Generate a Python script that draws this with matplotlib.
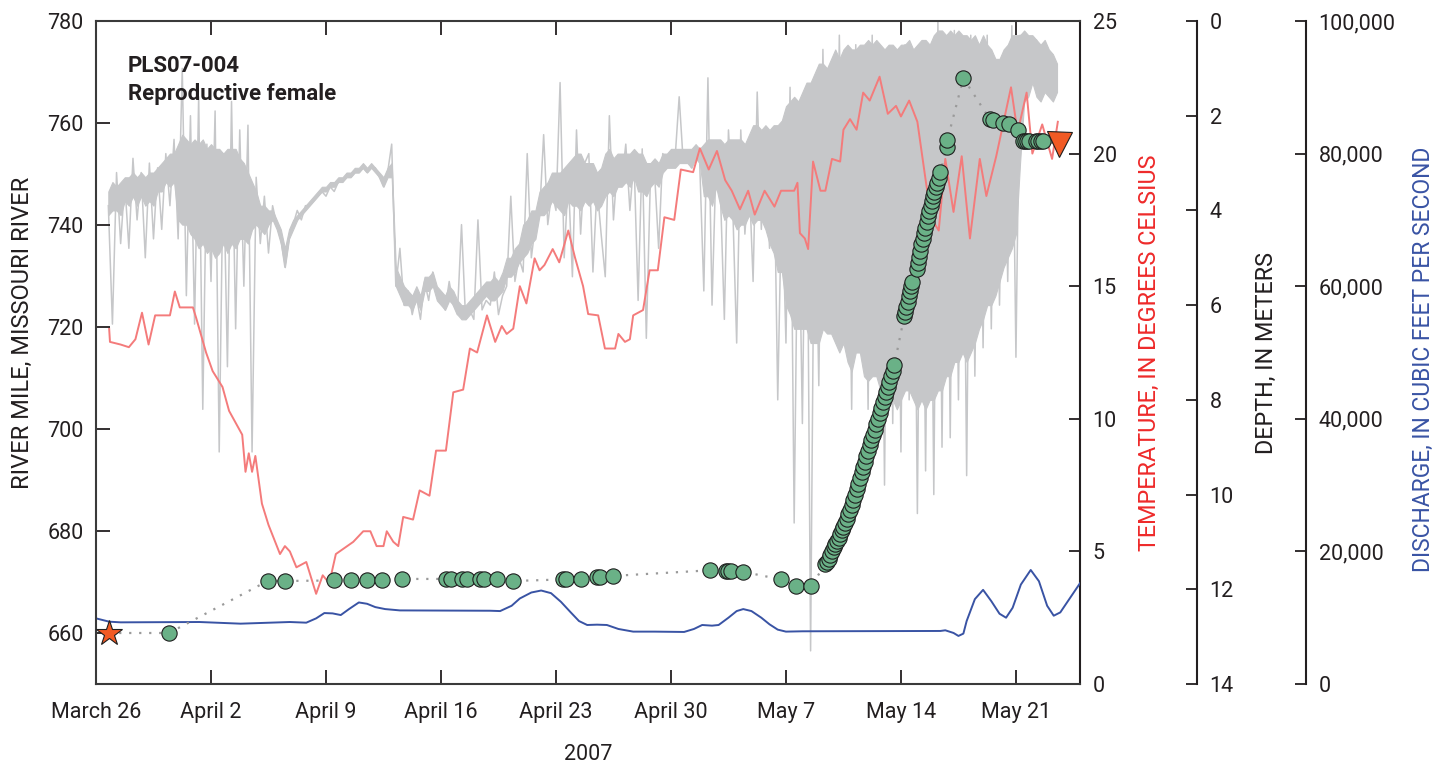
import numpy as np
import matplotlib
matplotlib.use("Agg")
from matplotlib import pyplot as plt
from matplotlib.ticker import FuncFormatter

plt.rcParams['font.family'] = ['Roboto', 'DejaVu Sans']

# x positions are days after March 26, 2007
week_ticks = [0, 7, 14, 21, 28, 35, 42, 49, 56]
week_labels = ["March 26", "April 2", "April 9", "April 16", "April 23",
               "April 30", "May 7", "May 14", "May 21"]

# fish location, river mile
fish_day = [4.44, 10.45, 11.5, 14.5, 15.5, 16.5, 17.4, 18.6,
            21.3, 21.6, 22.3, 22.6, 23.4, 23.6, 24.4, 25.4,
            28.4, 28.6, 29.5, 30.5, 30.7, 31.5,
            37.4, 38.35, 38.5, 38.65, 39.4,
            41.7, 42.6, 43.55,
            44.4, 44.5, 44.6, 44.7, 44.8, 44.9, 45.0, 45.1, 45.2, 45.3,
            45.4, 45.5, 45.6, 45.7, 45.8, 45.9, 46.0, 46.1, 46.2, 46.3,
            46.4, 46.5, 46.6, 46.7, 46.8, 46.9, 47.0, 47.1, 47.2, 47.3,
            47.4, 47.5, 47.6, 47.7, 47.8, 47.9, 48.0, 48.1, 48.2, 48.3,
            48.4, 48.5, 48.6,
            49.2, 49.27, 49.33, 49.4, 49.47, 49.55, 49.62, 49.7,
            49.95, 50.03, 50.1, 50.17, 50.25, 50.33, 50.4, 50.48, 50.56, 50.64,
            50.72, 50.8, 50.88, 50.96, 51.04, 51.12, 51.2, 51.3, 51.4,
            51.78, 51.82, 52.8,
            54.4, 54.6, 55.2, 55.6, 56.1, 56.4, 56.55, 56.7, 56.8,
            57.2, 57.35, 57.5, 57.65]
fish_rm = [660.0, 670.2, 670.2, 670.3, 670.3, 670.3, 670.3, 670.6,
           670.6, 670.6, 670.6, 670.6, 670.6, 670.6, 670.5, 670.2,
           670.5, 670.5, 670.6, 671.0, 671.0, 671.2,
           672.3, 672.1, 672.1, 672.1, 672.0,
           670.5, 669.2, 669.3,
           673.5, 674.0, 674.6, 675.2, 676.0, 676.8, 677.4, 678.0, 678.7, 679.4,
           680.1, 680.8, 681.6, 682.4, 683.3, 684.1, 685.1, 686.1, 687.1, 688.2,
           689.3, 690.4, 691.5, 692.6, 693.6, 694.7, 695.7, 696.8, 697.8, 698.9,
           699.9, 701.0, 702.0, 703.1, 704.1, 705.2, 706.2, 707.3, 708.3, 709.3,
           710.3, 711.4, 712.6,
           722.1, 723.0, 724.0, 725.0, 726.0, 727.0, 728.0, 728.8,
           731.4, 732.6, 733.8, 735.0, 736.2, 737.3, 738.4, 739.5, 740.6, 741.7,
           742.7, 743.7, 744.7, 745.6, 746.5, 747.4, 748.3, 749.3, 750.3,
           755.3, 756.6, 768.8,
           760.8, 760.6, 760.0, 759.8, 758.7, 756.5, 756.5, 756.5, 756.5,
           756.5, 756.5, 756.5, 756.5]
release_day, release_rm = 0.8, 660.0
last_day, last_rm = 58.6, 755.8

# water temperature, degrees Celsius
temp_day = [0.8, 0.85, 1.5, 2.0, 2.4, 2.8, 3.2, 3.6, 4.5, 4.8, 5.1, 5.9, 6.1, 6.7,
            7.1, 7.7, 8.1, 8.9, 9.1, 9.3, 9.5, 9.7, 10.1, 10.5, 11.2, 11.5, 11.8,
            12.2, 12.8, 13.4, 13.8, 14.2, 14.6, 15.66, 16.27, 16.7, 17.08, 17.5,
            17.7, 18.1, 18.4, 18.7, 19.3, 19.7, 20.3, 20.7, 21.3, 21.75, 22.35,
            22.76, 23.2, 23.8, 24.3, 24.7, 25.0, 25.4, 25.8, 26.2, 26.7, 27.0,
            27.3, 27.8, 28.2, 28.75, 29.15, 29.65, 29.96, 30.57, 30.98, 31.6,
            31.8, 32.2, 32.5, 32.7, 33.3, 33.7, 34.2, 34.6, 35.2, 35.6, 36.35,
            36.76, 37.3, 37.8, 38.3, 38.7, 39.2, 39.7, 40.1, 40.7, 41.3, 41.7,
            42.5, 42.7, 42.85, 43.15, 43.35, 43.65, 44.1, 44.4, 44.8, 45.3, 45.5,
            45.9, 46.3, 46.7, 47.1, 47.7, 48.2, 48.7, 49.0, 49.5, 50.0, 50.55,
            50.9, 51.3, 51.7, 52.2, 52.7, 53.2, 53.8, 54.2, 54.8, 55.7, 56.1,
            56.65, 57.0, 57.6, 58.2, 58.55]
temp_c = [13.4, 12.9, 12.8, 12.7, 13.0, 14.0, 12.8, 13.9, 13.9, 14.8, 14.2, 14.2, 13.8, 12.5,
          11.8, 11.2, 10.3, 9.4, 8.0, 8.7, 8.0, 8.6, 6.8, 6.0, 4.9, 5.2, 5.0,
          4.4, 4.6, 3.4, 4.1, 3.8, 4.9, 5.36, 5.76, 5.76, 5.2, 5.2,
          5.76, 5.36, 5.2, 6.3, 6.2, 7.3, 7.1, 8.8, 8.8, 11.0, 11.1,
          12.65, 12.5, 13.9, 12.9, 13.5, 13.2, 13.4, 15.0, 14.35, 16.05, 15.6,
          15.8, 16.4, 15.9, 17.1, 16.1, 15.0, 13.95, 13.9, 12.65, 12.65,
          13.2, 12.9, 13.0, 13.9, 14.1, 15.6, 15.6, 17.6, 17.5, 19.4, 19.3,
          20.2, 19.4, 20.1, 19.0, 18.6, 17.9, 18.6, 17.7, 18.6, 18.0, 18.6,
          18.6, 18.9, 17.0, 16.8, 16.4, 19.7, 18.6, 18.6, 19.8, 19.7, 20.9,
          21.3, 20.9, 22.3, 22.0, 22.9, 21.5, 21.8, 21.4, 22.0, 21.2, 18.8,
          17.5, 17.1, 19.8, 17.8, 19.9, 16.8, 19.8, 18.4, 19.9, 22.5, 20.8,
          22.3, 20.0, 21.1, 19.8, 21.2]

# fish depth, meters, every 6 hours from March 26 18:00
# single readings, including the spikes
depth_m = [3.9,
           6.4, 3.2, 4.7, 3.4,   4.8, 2.9, 4.2, 3.2,   5.0, 3.0, 4.6, 3.1,
           4.4, 2.8, 3.9, 2.5,   4.6, 1.0, 5.8, 2.0,   6.4, 1.6, 8.2, 2.6,
           5.5, 1.9, 9.1, 2.8,   7.3, 1.7, 6.5, 2.3,   5.6, 2.2, 9.1, 3.3,
           4.7, 3.7, 4.9, 3.9,   4.3, 4.6, 5.2, 4.6,   4.3, 4.0, 4.2, 3.9,
           3.9, 3.8, 3.7, 3.6,   3.7, 3.5, 3.6, 3.4,   3.4, 3.3, 3.3, 3.2,
           3.2, 3.1, 3.2, 3.1,   3.1, 3.3, 3.5, 3.2,   2.6, 5.6, 4.8, 6.0,
           5.7, 6.2, 5.8, 6.3,   5.5, 5.9, 5.3, 5.8,   5.9, 6.1, 5.5, 6.0,
           6.2, 4.3, 6.3, 6.1,   6.3, 4.2, 6.1, 5.9,   6.0, 5.3, 6.2, 5.8,
           5.6, 3.7, 5.5, 5.0,   5.3, 2.8, 5.0, 4.3,   4.1, 2.4, 4.3, 3.6,
           4.0, 1.3, 5.0, 3.3,   5.4, 2.3, 4.5, 3.0,   2.8, 5.3, 3.5, 4.5,
           5.4, 2.0, 4.2, 3.0,   3.4, 2.6, 4.0, 2.9,   5.9, 2.7, 6.7, 3.3,
           3.2, 4.8, 2.8, 3.0,   3.0, 2.9, 1.6, 3.0,   2.9, 3.1, 2.8, 3.0,
           5.7, 1.2, 6.0, 2.9,   3.5, 6.3, 2.3, 3.8,   6.8, 2.3, 4.5, 3.2,
           5.5, 1.5, 4.4, 2.6,   4.8, 2.3, 8.0, 3.5,   6.8, 1.4, 10.6, 3.0,
           8.5, 1.4, 13.3, 2.5,  7.7, 0.6, 6.0, 1.5,   6.5, 0.3, 5.8, 1.2,
           8.2, 0.5, 7.0, 1.5,   8.2, 0.3, 7.5, 1.0,   9.8, 0.6, 8.5, 1.2,
           9.1, 0.5, 8.0, 1.0,   10.4, 0.6, 9.5, 0.8,  10.0, 0.0, 9.0, 0.5,
           8.8, 0.2, 8.0, 0.6,   9.6, 0.3, 7.5, 0.8,   6.9, 0.3, 6.5, 1.0,
           6.0, 0.9, 5.5, 0.1,   7.1, 0.3, 1.8, 0.6,   1.2, 0.4, 1.6, 0.5,
           1.0, 0.8, 1.5]
# dense part of the record: shallowest and deepest, same 6-hour steps
depth_top = [3.6,
             3.4, 3.5, 3.4, 3.3,   3.3, 3.2, 3.3, 3.2,   3.3, 3.2, 3.2, 3.1,
             3.0, 2.9, 2.8, 2.8,   2.6, 2.4, 2.5, 2.6,   2.5, 2.6, 2.5, 2.7,
             2.6, 2.7, 2.7, 2.8,   2.7, 2.7, 2.7, 2.9,   3.0, 3.2, 3.4, 3.6,
             3.9, 3.9, 4.0, 4.0,   4.2, 4.4, 4.8, 4.4,   4.2, 4.1, 4.0, 3.9,
             3.8, 3.7, 3.6, 3.5,   3.5, 3.4, 3.4, 3.3,   3.3, 3.2, 3.2, 3.1,
             3.1, 3.0, 3.1, 3.0,   3.1, 3.2, 3.3, 3.1,   3.0, 5.2, 5.4, 5.6,
             5.7, 5.8, 5.6, 5.8,   5.4, 5.4, 5.3, 5.6,   5.7, 5.8, 5.6, 5.7,
             5.9, 6.0, 6.0, 5.9,   5.8, 5.7, 5.6, 5.5,   5.5, 5.4, 5.5, 5.3,
             5.0, 5.0, 4.8, 4.7,   4.3, 4.2, 4.0, 4.0,   3.6, 3.5, 3.4, 3.2,
             3.2, 3.2, 3.1, 3.0,   2.9, 2.8, 2.8, 3.0,   3.0, 3.0, 3.2, 3.1,
             2.8, 2.7, 2.9, 2.8,   2.8, 2.8, 2.8, 2.7,   2.8, 2.8, 3.0, 3.0,
             2.9, 3.0, 2.8, 2.8,   2.7, 2.7, 2.7, 2.7,   2.7, 2.7, 2.6, 2.7,
             2.6, 2.5, 2.5, 2.5,   2.5, 2.6, 2.5, 2.5,   2.5, 2.5, 2.6, 2.4,
             2.2, 2.2, 2.3, 2.2,   2.3, 2.2, 2.2, 2.1,   1.8, 1.7, 1.6, 1.7,
             1.5, 1.3, 1.3, 1.1,   0.9, 0.9, 1.0, 0.8,   0.6, 0.8, 0.6, 0.5,
             0.6, 0.6, 0.5, 0.5,   0.4, 0.5, 0.4, 0.5,   0.6, 0.5, 0.5, 0.6,
             0.5, 0.5, 0.4, 0.6,   0.5, 0.4, 0.4, 0.5,   0.3, 0.2, 0.2, 0.3,
             0.2, 0.3, 0.2, 0.3,   0.3, 0.4, 0.3, 0.5,   0.3, 0.5, 0.6, 0.8,
             0.8, 0.6, 0.5, 0.3,   0.3, 0.3, 0.2, 0.3,   0.3, 0.4, 0.5, 0.4,
             0.6, 0.7, 0.9]
depth_bottom = [4.1,
                4.0, 4.0, 4.1, 3.8,   3.9, 3.7, 3.9, 3.7,   3.9, 3.8, 3.9, 3.6,
                3.6, 3.4, 3.5, 3.4,   4.2, 4.3, 4.3, 4.5,   4.6, 4.8, 4.7, 4.9,
                4.8, 5.0, 4.9, 4.7,   4.9, 4.7, 4.8, 4.6,   4.6, 4.7, 4.4, 4.3,
                4.4, 4.5, 4.3, 4.2,   4.4, 4.7, 5.2, 4.6,   4.4, 4.2, 4.1, 4.0,
                3.9, 3.8, 3.7, 3.6,   3.6, 3.5, 3.5, 3.4,   3.4, 3.3, 3.3, 3.2,
                3.2, 3.1, 3.2, 3.1,   3.2, 3.3, 3.5, 3.3,   3.3, 5.6, 5.8, 6.0,
                6.0, 6.1, 5.9, 6.1,   5.7, 5.7, 5.6, 5.9,   6.0, 6.1, 5.9, 6.0,
                6.2, 6.3, 6.3, 6.2,   6.1, 6.0, 5.9, 5.8,   5.9, 5.9, 5.8, 5.7,
                5.4, 5.4, 5.3, 5.1,   5.0, 4.9, 4.7, 4.6,   4.1, 4.1, 4.0, 3.8,
                3.9, 4.0, 4.1, 3.8,   3.9, 3.9, 4.0, 3.8,   3.9, 3.8, 4.0, 3.9,
                3.7, 3.6, 3.7, 3.5,   3.5, 3.4, 3.5, 3.3,   3.6, 3.6, 3.7, 3.5,
                3.4, 3.5, 3.2, 3.1,   3.1, 3.1, 3.0, 3.0,   3.0, 3.1, 2.9, 3.0,
                3.7, 3.7, 3.9, 3.5,   3.9, 4.2, 4.1, 4.2,   4.4, 4.3, 4.3, 4.1,
                4.3, 4.2, 4.2, 4.4,   4.7, 4.9, 5.3, 5.3,   6.0, 6.2, 6.5, 6.5,
                6.5, 6.5, 6.8, 6.8,   6.8, 6.5, 6.6, 6.6,   6.8, 7.0, 6.8, 7.2,
                7.4, 7.0, 7.0, 7.5,   7.6, 7.5, 7.5, 7.8,   8.0, 7.8, 8.0, 8.2,
                8.0, 7.8, 7.8, 8.0,   8.2, 8.0, 8.2, 8.0,   8.0, 7.8, 7.8, 7.5,
                7.5, 7.2, 7.2, 7.0,   7.2, 7.0, 6.8, 6.5,   6.3, 6.0, 6.0, 5.8,
                5.5, 5.2, 5.0, 4.8,   4.5, 3.0, 1.7, 1.6,   1.3, 1.6, 1.7, 1.5,
                1.6, 1.7, 1.5]
depth_day = 0.75 + 0.25 * np.arange(len(depth_m))

# river discharge, cubic feet per second
flow_day = [0, 0.8, 1.5, 6.3, 8.8, 11.8, 12.8, 13.4, 13.9, 14.4, 14.9, 15.4, 16.0,
            16.5, 17.0, 17.6, 18.5, 24.0, 24.6, 25.3, 25.8, 26.5, 27.1, 27.7, 28.3,
            28.9, 29.4, 29.9, 30.5, 31.1, 31.8, 32.7, 34.0, 35.8, 36.4, 36.9, 37.5,
            37.9, 38.5, 39.0, 39.4, 39.9, 40.5, 41.0, 41.5, 42.0, 43.0, 51.4, 51.7,
            52.2, 52.5, 52.8, 53.0, 53.5, 54.0, 54.5, 55.0, 55.4, 55.8, 56.3, 56.9,
            57.4, 57.9, 58.3, 58.7, 59.3, 59.9]
flow_cfs = [9900, 9400, 9300, 9350, 9100, 9350, 9250, 9900, 10700, 10650, 10400, 11300, 12300,
            12100, 11600, 11300, 11100, 11050, 11000, 11800, 12900, 13800, 14100, 13700, 12400,
            10800, 9500, 8900, 8950, 8900, 8300, 7900, 7900, 7850, 8300, 8900, 8800,
            8900, 10000, 11000, 11300, 11000, 10000, 9000, 8200, 7900, 7950, 8000, 8100,
            7700, 7250, 7600, 9500, 12800, 14200, 12500, 10600, 10000, 11500, 15000, 17200,
            15500, 11800, 10300, 10800, 13000, 15200]

ink = '#231f20'
fig = plt.figure(figsize=(14.5, 7.71), dpi=100)
ax = fig.add_axes([0.06621, 0.11284, 0.67862, 0.85992])
ax_d = ax.twinx()
ax_t = ax.twinx()
ax_q = ax.twinx()

# depth (gray, bottom layer)
ax_d.fill_between(depth_day, depth_top, depth_bottom, color='#c6c7c9', lw=0.8)
ax_d.plot(depth_day, depth_m, color='#c6c7c9', lw=1.1)
ax_d.set_ylim(14, 0)
ax_d.set_yticks(range(0, 15, 2))
ax_d.spines['right'].set_position(('axes', 1.119))

# temperature
ax_t.plot(temp_day, temp_c, color='#f47b7b', lw=1.4)
ax_t.set_ylim(0, 25)
ax_t.set_yticks(range(0, 26, 5))

# discharge
ax_q.plot(flow_day, flow_cfs, color='#3953a4', lw=1.4)
ax_q.set_ylim(0, 100000)
ax_q.set_yticks(range(0, 100001, 20000))
ax_q.yaxis.set_major_formatter(FuncFormatter(lambda v, p: f"{int(v):,}"))
ax_q.spines['right'].set_position(('axes', 1.2297))

# river mile (top layer)
all_day = [release_day] + fish_day + [last_day]
all_rm = [release_rm] + fish_rm + [last_rm]
ax.plot(all_day, all_rm, color='#9a9a9a', lw=1.6, ls=(0, (1, 3.5)), zorder=2)
ax.plot(fish_day, fish_rm, 'o', ms=11, mfc='#6ab187', mec='#1e1e1e', mew=0.8, zorder=3)
ax.plot(release_day, release_rm, '*', ms=19, mfc='#f15a24', mec='#1e1e1e', mew=0.8, zorder=4)
ax.plot(last_day, last_rm, 'v', ms=18, mfc='#f15a24', mec='#1e1e1e', mew=0.8, zorder=4)
ax.set_ylim(650, 780)
ax.set_yticks(range(660, 781, 20))
ax.set_xlim(0, 59.9)
ax.set_xticks(week_ticks)
ax.set_xticklabels(week_labels)

for a, z in [(ax_d, 1), (ax_t, 2), (ax_q, 3), (ax, 4)]:
    a.set_zorder(z)
    a.patch.set_visible(False)
for a in (ax_d, ax_t, ax_q):
    for s in ('top', 'bottom', 'left'):
        a.spines[s].set_visible(False)
    a.spines['right'].set_color(ink)
    a.spines['right'].set_linewidth(1.5)
    a.tick_params(axis='y', direction='in', length=8, width=1.3, pad=9,
                  labelsize=15.5, colors=ink)
for s in ax.spines.values():
    s.set_color('#3a3a3a')
    s.set_linewidth(1.5)
ax.spines['right'].set_visible(False)
ax.tick_params(axis='both', direction='in', length=10, width=1.3, labelsize=15.5,
               colors=ink, top=True)
ax.tick_params(axis='y', pad=9)
ax.tick_params(axis='x', pad=13)

ax.set_xlabel("2007", fontsize=15.5, color=ink, labelpad=15)
ax.set_ylabel("RIVER MILE, MISSOURI RIVER", fontsize=17, color=ink)
ax_t.set_ylabel("TEMPERATURE, IN DEGREES CELSIUS", fontsize=16.8, color='#ee2a2a')
ax_d.set_ylabel("DEPTH, IN METERS", fontsize=16.8, color=ink)
ax_q.set_ylabel("DISCHARGE, IN CUBIC FEET PER SECOND", fontsize=16.5, color='#3953a4')
for a, xc, yc in [(ax, -0.0752, 0.529), (ax_t, 1.071, 0.5), (ax_d, 1.190, 0.5),
                  (ax_q, 1.3486, 0.49)]:
    a.yaxis.set_label_coords(xc, yc)
    a.yaxis.label.set_va('center')

ax.text(0.0325, 0.948, "PLS07-004\nReproductive female", transform=ax.transAxes,
        va='top', ha='left', fontsize=16, fontweight='bold', color=ink,
        linespacing=1.3, zorder=5)

fig.savefig("out.png", dpi=100)
